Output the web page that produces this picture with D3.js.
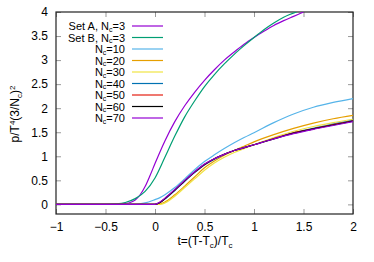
<!DOCTYPE html>
<html>
<head>
<meta charset="utf-8">
<script src="https://cdn.jsdelivr.net/npm/d3@7"></script>
<style>
  body { margin: 0; background: #fff; }
  text { font-family: "Liberation Sans", Arial, sans-serif; fill: #000; }
</style>
</head>
<body>
<div id="chart"></div>
<script>
const width = 374;
const height = 262;
const margin = { top: 12, right: 21, bottom: 48, left: 56 };

// Data
const xTicks = [-1, -0.5, 0, 0.5, 1, 1.5, 2];
const yTicks = [0, 0.5, 1, 1.5, 2, 2.5, 3, 3.5, 4];

const tSetA = [-1, -0.5, -0.4, -0.3, -0.25, -0.2, -0.15, -0.1, -0.05, 0, 0.1, 0.2, 0.3, 0.4, 0.5, 0.6, 0.7, 0.8, 0.9, 1.0, 1.1, 1.2, 1.3, 1.4, 1.5];
const vSetA = [0, 0, 0, 0.02, 0.04, 0.09, 0.2, 0.37, 0.6, 0.85, 1.32, 1.72, 2.05, 2.33, 2.58, 2.8, 3.0, 3.17, 3.33, 3.47, 3.6, 3.72, 3.82, 3.91, 4.0];

const tSetB = [-1, -0.5, -0.4, -0.3, -0.2, -0.1, 0, 0.1, 0.2, 0.3, 0.4, 0.5, 0.6, 0.7, 0.8, 0.9, 1.0, 1.1, 1.2, 1.3, 1.43];
const vSetB = [0, 0, 0.01, 0.04, 0.12, 0.27, 0.55, 0.98, 1.42, 1.82, 2.15, 2.45, 2.7, 2.92, 3.12, 3.3, 3.47, 3.63, 3.77, 3.89, 4.0];

const tN = [-1, -0.2, -0.1, 0, 0.05, 0.1, 0.2, 0.3, 0.4, 0.5, 0.6, 0.7, 0.8, 0.9, 1.0, 1.2, 1.4, 1.6, 1.8, 2.0];
const vN10 = [0, 0, 0.03, 0.1, 0.14, 0.2, 0.35, 0.53, 0.72, 0.89, 1.03, 1.16, 1.28, 1.39, 1.49, 1.7, 1.88, 2.02, 2.12, 2.2];
const vN20 = [0, 0, 0, 0, 0.01, 0.05, 0.2, 0.38, 0.57, 0.76, 0.9, 1.02, 1.12, 1.21, 1.3, 1.45, 1.58, 1.69, 1.78, 1.85];
const vN30 = [0, 0, 0, 0, 0, 0.03, 0.17, 0.35, 0.53, 0.71, 0.86, 0.98, 1.08, 1.16, 1.24, 1.39, 1.52, 1.62, 1.7, 1.77];
const vN40 = [0, 0, 0, 0, 0.04, 0.11, 0.29, 0.48, 0.66, 0.82, 0.94, 1.04, 1.12, 1.18, 1.24, 1.37, 1.49, 1.58, 1.67, 1.75];
const vN50 = [0, 0, 0, 0, 0.04, 0.12, 0.3, 0.49, 0.67, 0.83, 0.95, 1.04, 1.12, 1.18, 1.24, 1.37, 1.49, 1.57, 1.66, 1.74];
const vN60 = [0, 0, 0, 0, 0.04, 0.12, 0.3, 0.49, 0.67, 0.83, 0.95, 1.04, 1.12, 1.18, 1.24, 1.36, 1.48, 1.57, 1.65, 1.73];
const vN70 = [0, 0, 0, 0, 0.05, 0.13, 0.31, 0.5, 0.68, 0.84, 0.95, 1.04, 1.12, 1.18, 1.24, 1.36, 1.47, 1.56, 1.64, 1.72];

const seriesNames = ["Set A, N_c=3", "Set B, N_c=3", "N_c=10", "N_c=20", "N_c=30", "N_c=40", "N_c=50", "N_c=60", "N_c=70"];
const seriesColors = ["#9400d3", "#009e73", "#56b4e9", "#e69f00", "#f0e442", "#0072b2", "#e51e10", "#000000", "#9400d3"];

const series = [
    { t: tSetA, v: vSetA },
    { t: tSetB, v: vSetB },
    { t: tN, v: vN10 },
    { t: tN, v: vN20 },
    { t: tN, v: vN30 },
    { t: tN, v: vN40 },
    { t: tN, v: vN50 },
    { t: tN, v: vN60 },
    { t: tN, v: vN70 }
].map((s, i) => ({
    name: seriesNames[i],
    color: seriesColors[i],
    points: s.t.map((t, j) => [t, s.v[j]])
}));

const svg = d3.select("#chart")
    .append("svg")
    .attr("width", width)
    .attr("height", height);

// Scales
const x = d3.scaleLinear()
    .domain([-1, 2])
    .range([margin.left, width - margin.right]);

const y = d3.scaleLinear()
    .domain([-0.2, 4])
    .range([height - margin.bottom, margin.top]);

svg.append("defs").append("clipPath")
    .attr("id", "clip")
    .append("rect")
    .attr("x", margin.left)
    .attr("y", margin.top)
    .attr("width", width - margin.left - margin.right)
    .attr("height", height - margin.top - margin.bottom);

// ----- Axes (ticks inward, mirrored) -----
const tickStyle = g => {
    g.select(".domain").remove();
    g.selectAll(".tick line").attr("stroke", "#999");
    g.selectAll(".tick text")
        .style("font-family", "Liberation Sans, Arial, sans-serif")
        .style("font-size", "12px")
        .attr("fill", "#000");
};

svg.append("g")
    .attr("transform", `translate(0, ${height - margin.bottom})`)
    .call(d3.axisBottom(x).tickValues(xTicks).tickSize(-5).tickPadding(8).tickFormat(d3.format("")))
    .call(tickStyle);

svg.append("g")
    .attr("transform", `translate(0, ${margin.top})`)
    .call(d3.axisTop(x).tickValues(xTicks).tickSize(-5).tickFormat(""))
    .call(tickStyle);

svg.append("g")
    .attr("transform", `translate(${margin.left}, 0)`)
    .call(d3.axisLeft(y).tickValues(yTicks).tickSize(-5).tickPadding(8).tickFormat(d3.format("")))
    .call(tickStyle);

svg.append("g")
    .attr("transform", `translate(${width - margin.right}, 0)`)
    .call(d3.axisRight(y).tickValues(yTicks).tickSize(-5).tickFormat(""))
    .call(tickStyle);

// Frame
svg.append("rect")
    .attr("x", margin.left)
    .attr("y", margin.top)
    .attr("width", width - margin.left - margin.right)
    .attr("height", height - margin.top - margin.bottom)
    .attr("fill", "none")
    .attr("stroke", "#222")
    .attr("stroke-width", 1.2);

// ----- Curves -----
const line = d3.line()
    .x(d => x(d[0]))
    .y(d => y(d[1]))
    .curve(d3.curveMonotoneX);

svg.append("g")
    .attr("clip-path", "url(#clip)")
    .selectAll("path")
    .data(series)
    .enter()
    .append("path")
    .attr("d", d => line(d.points))
    .attr("fill", "none")
    .attr("stroke", d => d.color)
    .attr("stroke-width", 1.2);

// ----- Legend -----
const legend = svg.append("g");
series.forEach((s, i) => {
    const ly = 26 + i * 11.5;
    const txt = legend.append("text")
        .attr("x", 125)
        .attr("y", ly + 4)
        .attr("text-anchor", "end")
        .style("font-size", "11px");
    const parts = s.name.split("N_c");
    txt.append("tspan").text(parts[0] + "N");
    txt.append("tspan").attr("dy", 1.5).style("font-size", "7px").text("c");
    txt.append("tspan").attr("dy", -1.5).text(parts[1]);
    legend.append("line")
        .attr("x1", 132)
        .attr("x2", 163)
        .attr("y1", ly)
        .attr("y2", ly)
        .attr("stroke", s.color)
        .attr("stroke-width", 1.2);
});

// Axis labels
const xl = svg.append("text")
    .attr("x", 205)
    .attr("y", 245)
    .attr("text-anchor", "middle")
    .style("font-size", "12px");
xl.append("tspan").text("t=(T-T");
xl.append("tspan").attr("dy", 3).style("font-size", "8px").text("c");
xl.append("tspan").attr("dy", -3).text(")/T");
xl.append("tspan").attr("dy", 3).style("font-size", "8px").text("c");

const yl = svg.append("text")
    .attr("transform", "translate(19, 114) rotate(-90)")
    .attr("text-anchor", "middle")
    .style("font-size", "12px");
yl.append("tspan").text("p/T");
yl.append("tspan").attr("dy", -4).style("font-size", "8px").text("4");
yl.append("tspan").attr("dy", 4).text("(3/N");
yl.append("tspan").attr("dy", 3).style("font-size", "8px").text("c");
yl.append("tspan").attr("dy", -3).text(")");
yl.append("tspan").attr("dy", -4).style("font-size", "8px").text("2");
</script>
</body>
</html>
